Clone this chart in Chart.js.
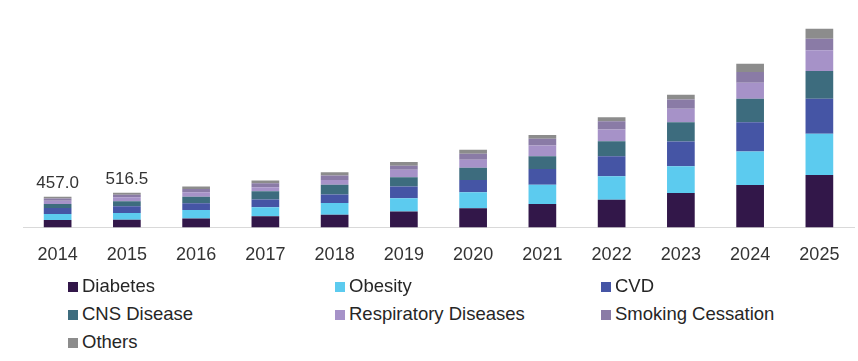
<!DOCTYPE html>
<html>
<head>
<meta charset="utf-8">
<script src="https://cdn.jsdelivr.net/npm/chart.js@4.4.1/dist/chart.umd.min.js"></script>
<style>
    body { margin: 0; background: #fff; font-family: "Liberation Sans", Arial, sans-serif; }
    #wrap { position: relative; width: 858px; height: 361px; overflow: hidden; }
    #chart { position: absolute; left: 0; top: 0; }
    #legend { position: absolute; left: 0; top: 272px; width: 858px; }
    .item { position: absolute; font-size: 18.5px; color: #262626; white-space: nowrap; line-height: 28px; }
    .item i { display: inline-block; width: 10px; height: 10px; margin-right: 4px; vertical-align: 0px; }
</style>
</head>
<body>
<div id="wrap">
    <canvas id="chart" width="858" height="289"></canvas>
    <div id="legend"></div>
</div>
<script>
// ==========================================
// 1. Data
// ==========================================
const years = ['2014', '2015', '2016', '2017', '2018', '2019', '2020', '2021', '2022', '2023', '2024', '2025'];

const diabetes = [110, 115, 134, 164, 189, 238, 283, 348, 412, 512, 631, 780];
const obesity  = [89, 100, 125, 134, 174, 194, 238, 287, 347, 396, 496, 610];
const cvd      = [89, 98, 98, 115, 124, 174, 185, 234, 298, 368, 436, 521];
const cns      = [60, 74, 100, 124, 145, 140, 179, 188, 223, 287, 348, 411];
const resp     = [49, 59.5, 64, 60, 74, 109, 119, 159, 174, 200, 238, 308];
const smoking  = [34, 40, 51, 60, 64, 60, 89, 100, 124, 138, 158, 174];
const others   = [26, 30, 34, 40, 49, 55, 60, 55, 60, 70, 125, 149];

// totals printed above the first two bars only
const totalLabels = ['457.0', '516.5', '', '', '', '', '', '', '', '', '', ''];

const seriesNames  = ['Diabetes', 'Obesity', 'CVD', 'CNS Disease', 'Respiratory Diseases', 'Smoking Cessation', 'Others'];
const seriesData   = [diabetes, obesity, cvd, cns, resp, smoking, others];
const seriesColors = ['#321749', '#5ccbef', '#4555a5', '#3d6c7e', '#a692c8', '#8a7ba6', '#8c8c8c'];

// ==========================================
// 2. Total labels plugin
// ==========================================
const totalsPlugin = {
    id: 'totals',
    afterDatasetsDraw(chart) {
        const ctx = chart.ctx;
        const topMeta = chart.getDatasetMeta(chart.data.datasets.length - 1);
        ctx.save();
        ctx.font = '17px "Liberation Sans", Arial, sans-serif';
        ctx.fillStyle = '#333';
        ctx.textAlign = 'center';
        ctx.textBaseline = 'alphabetic';
        totalLabels.forEach((txt, i) => {
            if (!txt) return;
            const bar = topMeta.data[i];
            ctx.fillText(txt, bar.x, bar.y - 9);
        });
        ctx.restore();
    }
};

// ==========================================
// 3. Chart
// ==========================================
new Chart(document.getElementById('chart'), {
    type: 'bar',
    data: {
        labels: years,
        datasets: seriesNames.map((name, i) => ({
            label: name,
            data: seriesData[i],
            backgroundColor: seriesColors[i],
            borderWidth: 0,
            categoryPercentage: 1,
            barPercentage: 0.4
        }))
    },
    options: {
        responsive: false,
        animation: false,
        layout: { padding: { left: 23, right: 4, top: 12, bottom: 6 } },
        plugins: {
            legend: { display: false },
            tooltip: { enabled: false }
        },
        scales: {
            x: {
                stacked: true,
                grid: { display: false, drawTicks: false },
                border: { display: true, color: '#d9d9d9', width: 1 },
                ticks: {
                    padding: 17,
                    color: '#333',
                    font: { family: '"Liberation Sans", Arial, sans-serif', size: 18 }
                }
            },
            y: {
                stacked: true,
                display: false,
                min: 0,
                max: 3200
            }
        }
    },
    plugins: [totalsPlugin]
});

// ==========================================
// 4. Legend (3 columns)
// ==========================================
const legendEl = document.getElementById('legend');
const colX = [68, 335, 601];
seriesNames.forEach((name, i) => {
    const el = document.createElement('div');
    el.className = 'item';
    el.style.left = colX[i % 3] + 'px';
    el.style.top = (Math.floor(i / 3) * 27.8) + 'px';
    el.innerHTML = '<i style="background:' + seriesColors[i] + '"></i>' + name;
    legendEl.appendChild(el);
});
</script>
</body>
</html>
